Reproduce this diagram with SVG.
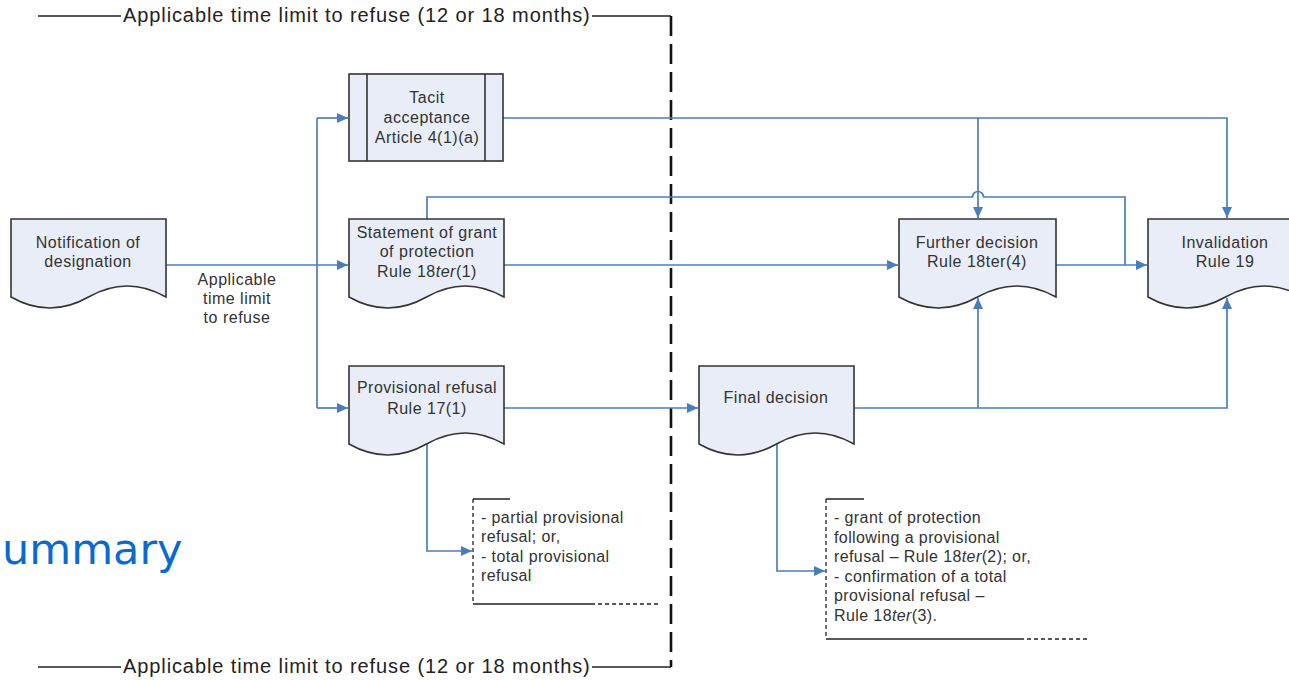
<svg xmlns="http://www.w3.org/2000/svg" width="1289" height="680" viewBox="0 0 1289 680">
<style>
.doc{fill:#e8edf7;stroke:#333;stroke-width:1.6}
.t{font-family:"Liberation Sans",Arial,sans-serif;font-size:16px;letter-spacing:0.5px;fill:#333;text-anchor:middle}
.n{font-family:"Liberation Sans",Arial,sans-serif;font-size:16px;letter-spacing:0.4px;fill:#333}
.ttl{font-family:"Liberation Sans",Arial,sans-serif;font-size:20px;letter-spacing:0.9px;fill:#222}
.c{fill:none;stroke:#4a7ebb;stroke-width:1.7}
.a{marker-end:url(#arr)}
.blk{fill:none;stroke:#222;stroke-width:1.5}
.dsh{fill:none;stroke:#222;stroke-width:1.3;stroke-dasharray:4 3}
</style>
<defs>
<marker id="arr" markerUnits="userSpaceOnUse" viewBox="0 0 11 10" refX="11" refY="5" markerWidth="11" markerHeight="10" orient="auto">
<path d="M0,0 L11,5 L0,10 z" fill="#4a7ebb"/>
</marker>
</defs>
<rect width="1289" height="680" fill="#fff"/>

<g id="timeline">
<path class="blk" d="M38 16 H121 M592 16 H671 M38 667 H121 M592 667 H671"/>
<path d="M671 16 V667" fill="none" stroke="#111" stroke-width="2.6" stroke-dasharray="20 8"/>
<text class="ttl" x="123" y="22">Applicable time limit to refuse (12 or 18 months)</text>
<text class="ttl" x="123" y="673">Applicable time limit to refuse (12 or 18 months)</text>
</g>

<g id="title">
<text x="2" y="564" font-family="'DejaVu Sans',Verdana,sans-serif" font-size="43" fill="#0a6bcd">ummary</text>
</g>

<g id="connectors">
<path class="c a" d="M166 265 H348"/>
<path class="c" d="M317 118 V408"/>
<path class="c a" d="M317 118 H348"/>
<path class="c a" d="M317 408 H348"/>
<path class="c a" d="M503 118 H1227 V218"/>
<path class="c a" d="M978 118 V218"/>
<path class="c a" d="M504 265 H898"/>
<path class="c" d="M427 219 V197 H972.5 A5.5 5.5 0 0 1 983.5 197 H1125 V265"/>
<path class="c a" d="M1056 265 H1147"/>
<path class="c a" d="M504 408 H698"/>
<path class="c a" d="M427 444 V551 H472"/>
<path class="c a" d="M854 408 H1227 V298"/>
<path class="c a" d="M978 408 V298"/>
<path class="c a" d="M777 444 V571 H825"/>
<text class="t" x="237" y="285">Applicable</text>
<text class="t" x="237" y="304">time limit</text>
<text class="t" x="237" y="323">to refuse</text>
</g>

<g id="notification">
<path class="doc" d="M11 219 H166 V297 Q127.25 275 88.5 297 Q49.75 319 11 297 Z"/>
<text class="t" x="88" y="248">Notification of</text>
<text class="t" x="88" y="267">designation</text>
</g>

<g id="tacit">
<rect class="doc" x="349" y="74" width="154" height="87"/>
<path d="M367 74 V161 M485 74 V161" fill="none" stroke="#333" stroke-width="1.6"/>
<text class="t" x="427" y="103">Tacit</text>
<text class="t" x="427" y="123">acceptance</text>
<text class="t" x="427" y="143">Article 4(1)(a)</text>
</g>

<g id="statement">
<path class="doc" d="M349 219 H504 V297 Q465.25 275 426.5 297 Q387.75 319 349 297 Z"/>
<text class="t" x="427" y="238">Statement of grant</text>
<text class="t" x="427" y="257">of protection</text>
<text class="t" x="427" y="277">Rule 18<tspan font-style="italic">ter</tspan>(1)</text>
</g>

<g id="provisional">
<path class="doc" d="M349 366 H504 V444 Q465.25 422 426.5 444 Q387.75 466 349 444 Z"/>
<text class="t" x="427" y="393">Provisional refusal</text>
<text class="t" x="427" y="414">Rule 17(1)</text>
</g>

<g id="final">
<path class="doc" d="M699 366 H854 V444 Q815.25 422 776.5 444 Q737.75 466 699 444 Z"/>
<text class="t" x="776" y="403">Final decision</text>
</g>

<g id="further">
<path class="doc" d="M899 219 H1056 V297 Q1016.75 275 977.5 297 Q938.25 319 899 297 Z"/>
<text class="t" x="977" y="248">Further decision</text>
<text class="t" x="977" y="267">Rule 18ter(4)</text>
</g>

<g id="invalidation">
<path class="doc" d="M1148 219 H1303 V297 Q1264.25 275 1225.5 297 Q1186.75 319 1148 297 Z"/>
<text class="t" x="1225" y="248">Invalidation</text>
<text class="t" x="1225" y="267">Rule 19</text>
</g>

<g id="note1">
<path class="dsh" d="M473 499 V604"/>
<path class="blk" d="M473 499 H510 M473 604 H591"/>
<path class="dsh" d="M591 604 H660"/>
<text class="n" x="481" y="523">- partial provisional</text>
<text class="n" x="481" y="542">refusal; or,</text>
<text class="n" x="481" y="562">- total provisional</text>
<text class="n" x="481" y="581">refusal</text>
</g>

<g id="note2">
<path class="dsh" d="M826 499 V639"/>
<path class="blk" d="M826 499 H864 M826 639 H1020"/>
<path class="dsh" d="M1020 639 H1088"/>
<text class="n" x="834" y="523">- grant of protection</text>
<text class="n" x="834" y="542.5">following a provisional</text>
<text class="n" x="834" y="562">refusal – Rule 18<tspan font-style="italic">ter</tspan>(2); or,</text>
<text class="n" x="834" y="581.5">- confirmation of a total</text>
<text class="n" x="834" y="601">provisional refusal –</text>
<text class="n" x="834" y="620.5">Rule 18<tspan font-style="italic">ter</tspan>(3).</text>
</g>
</svg>
